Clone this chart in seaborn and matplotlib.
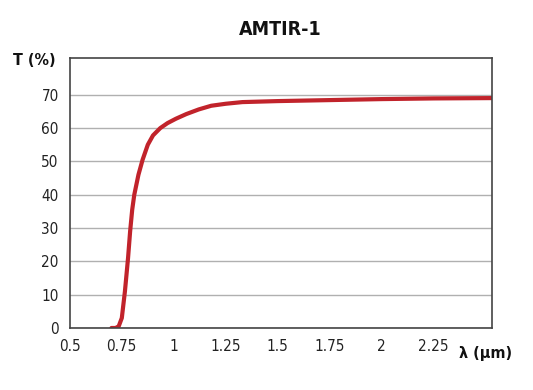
import matplotlib
matplotlib.use("Agg")
import matplotlib.pyplot as plt
import seaborn as sns
import pandas as pd

wavelength = [0.70, 0.72, 0.735, 0.75, 0.765, 0.78, 0.79, 0.80, 0.81, 0.83, 0.85, 0.875, 0.90, 0.935, 0.97,
              1.01, 1.06, 1.12, 1.18, 1.25, 1.33, 1.50, 1.75, 2.00, 2.25, 2.53]
transmission = [0, 0, 0.5, 3, 11, 21, 29, 35.5, 40, 46, 50.5, 55, 57.8, 60, 61.5,
                62.8, 64.2, 65.6, 66.7, 67.3, 67.8, 68.1, 68.4, 68.7, 68.9, 69]
x_ticks = [0.5, 0.75, 1, 1.25, 1.5, 1.75, 2, 2.25]
x_tick_labels = ["0.5", "0.75", "1", "1.25", "1.5", "1.75", "2", "2.25"]
y_ticks = [0, 10, 20, 30, 40, 50, 60, 70]

sns.set_theme(style="white")
plt.rcParams['font.family'] = ['DejaVu Sans']
plt.rcParams['font.stretch'] = 'condensed'

df = pd.DataFrame({"wl": wavelength, "T": transmission})

fig = plt.figure(figsize=(5.33, 3.9), dpi=100)
ax = fig.add_axes([0.131, 0.159, 0.792, 0.692])
sns.lineplot(data=df, x="wl", y="T", ax=ax, color="#c1232b", linewidth=3,
             solid_capstyle="round", solid_joinstyle="round")

ax.set_xlim(0.5, 2.53)
ax.set_ylim(0, 81)
ax.set_xticks(x_ticks)
ax.set_xticklabels(x_tick_labels)
ax.set_yticks(y_ticks)
ax.yaxis.grid(True, color="#b0b0b0", linewidth=1)
ax.xaxis.grid(False)
ax.tick_params(axis="both", length=0, labelsize=11, colors="#222222", pad=8)
for lbl in ax.get_xticklabels() + ax.get_yticklabels():
    lbl.set_fontstretch('condensed')
for s in ax.spines.values():
    s.set_color("#444444")
    s.set_linewidth(1.2)
ax.set_xlabel("")
ax.set_ylabel("")
ax.set_axisbelow(True)

fig.text(0.525, 0.925, "AMTIR-1", ha="center", va="center", fontsize=14, fontweight="bold", color="#111111", fontstretch='condensed')
fig.text(0.065, 0.845, "T (%)", ha="center", va="center", fontsize=11.5, fontweight="bold", color="#111111", fontstretch='condensed')
fig.text(0.861, 0.093, "λ (μm)", ha="left", va="center", fontsize=11.5, fontweight="bold", color="#111111", fontstretch='condensed')

fig.savefig("out.png", dpi=100)
